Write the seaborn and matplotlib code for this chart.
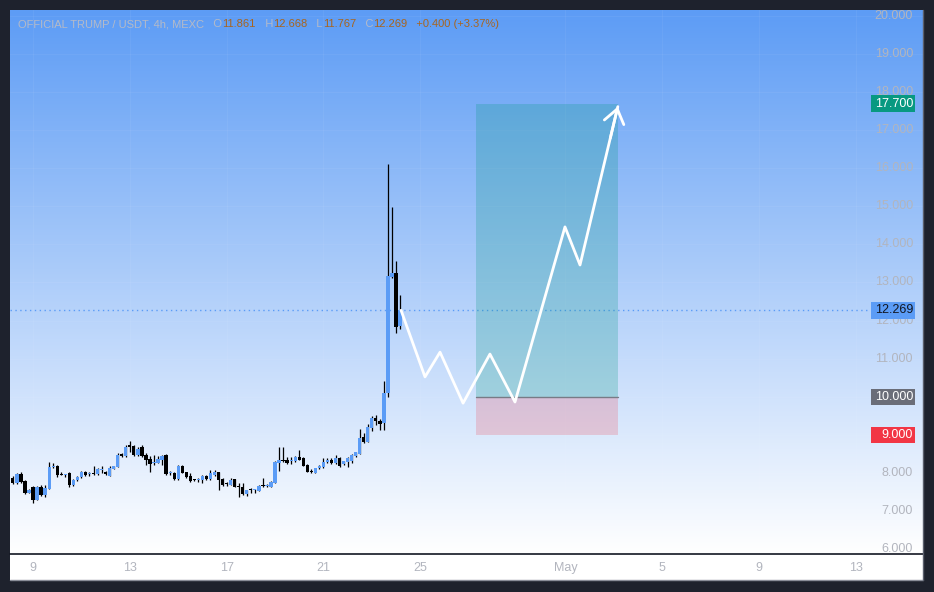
import numpy as np
import pandas as pd
import matplotlib
matplotlib.use('Agg')
import matplotlib.pyplot as plt
import matplotlib.dates as mdates
import matplotlib.transforms as mtransforms
from matplotlib.patches import Rectangle
from matplotlib.lines import Line2D
import seaborn as sns

# ---- data (OFFICIAL TRUMP / USDT, 4h candles) ----
first_candle = '2025-04-08 04:00'
candle_open = [7.87, 7.74, 7.96, 7.79, 7.48, 7.62, 7.29, 7.64, 7.42, 7.58,
               8.16, 8.17, 7.97, 7.95, 7.99, 7.68, 7.80, 7.88, 8.03, 7.96,
               8.00, 7.97, 8.07, 8.03, 7.93, 8.10, 8.16, 8.49, 8.43, 8.72,
               8.71, 8.47, 8.67, 8.47, 8.36, 8.26, 8.26, 8.34, 8.47, 7.99,
               7.99, 7.83, 8.19, 8.01, 7.93, 7.82, 7.81, 7.80, 7.93, 7.84,
               7.94, 8.01, 7.84, 7.72, 7.68, 7.83, 7.66, 7.62, 7.44, 7.55,
               7.54, 7.53, 7.66, 7.65, 7.64, 7.74, 8.27, 8.33, 8.35, 8.31,
               8.30, 8.41, 8.38, 8.21, 8.06, 8.00, 8.14, 8.15, 8.29, 8.34,
               8.25, 8.38, 8.22, 8.29, 8.32, 8.43, 8.50, 8.95, 8.82, 9.17,
               9.43, 9.37, 9.30, 10.10, 13.15, 13.24, 11.861]
candle_high = [7.92, 7.99, 8.03, 7.81, 7.57, 7.65, 7.65, 7.68, 7.68, 8.28,
               8.27, 8.21, 8.03, 7.98, 8.01, 7.83, 7.91, 8.06, 8.06, 8.03,
               8.18, 8.14, 8.19, 8.06, 8.17, 8.19, 8.52, 8.53, 8.74, 8.84,
               8.73, 8.69, 8.72, 8.51, 8.45, 8.47, 8.44, 8.47, 8.49, 8.06,
               8.03, 8.21, 8.21, 8.03, 7.99, 7.83, 7.87, 7.94, 7.95, 8.07,
               8.07, 8.03, 7.87, 7.77, 7.86, 7.85, 7.74, 7.74, 7.55, 7.59,
               7.57, 7.67, 7.87, 7.71, 7.78, 8.30, 8.67, 8.67, 8.41, 8.41,
               8.44, 8.60, 8.41, 8.23, 8.09, 8.14, 8.20, 8.38, 8.38, 8.38,
               8.47, 8.42, 8.32, 8.42, 8.50, 8.56, 9.14, 9.04, 9.27, 9.49,
               9.52, 9.41, 10.40, 16.11, 14.99, 13.56, 12.668]
candle_low = [7.71, 7.71, 7.72, 7.45, 7.46, 7.22, 7.28, 7.39, 7.37, 7.57,
              8.14, 7.90, 7.94, 7.90, 7.64, 7.66, 7.79, 7.86, 7.93, 7.93,
              7.94, 7.94, 7.99, 7.94, 7.92, 8.09, 8.15, 8.41, 8.42, 8.56,
              8.45, 8.44, 8.41, 8.21, 8.03, 8.21, 8.25, 8.21, 7.95, 7.95,
              7.82, 7.81, 7.99, 7.87, 7.77, 7.78, 7.75, 7.74, 7.81, 7.81,
              7.93, 7.55, 7.66, 7.66, 7.68, 7.62, 7.37, 7.42, 7.40, 7.46,
              7.46, 7.51, 7.62, 7.62, 7.63, 7.73, 8.06, 8.29, 8.23, 8.22,
              8.29, 8.34, 8.18, 8.01, 8.00, 8.00, 8.09, 8.14, 8.25, 8.23,
              8.23, 8.15, 8.21, 8.15, 8.27, 8.42, 8.49, 8.79, 8.82, 9.11,
              9.26, 9.13, 9.13, 10.00, 13.11, 11.68, 11.767]
candle_close = [7.74, 7.96, 7.77, 7.48, 7.56, 7.29, 7.62, 7.42, 7.59, 8.16,
                8.17, 7.94, 7.95, 7.96, 7.68, 7.81, 7.90, 8.03, 7.95, 7.99,
                7.97, 8.10, 8.09, 7.96, 8.14, 8.18, 8.47, 8.43, 8.69, 8.69,
                8.47, 8.63, 8.44, 8.34, 8.22, 8.29, 8.36, 8.43, 7.97, 8.01,
                7.83, 8.19, 8.00, 7.88, 7.79, 7.80, 7.81, 7.93, 7.84, 7.99,
                8.01, 7.81, 7.68, 7.71, 7.81, 7.64, 7.62, 7.44, 7.55, 7.54,
                7.55, 7.65, 7.65, 7.66, 7.77, 8.29, 8.34, 8.31, 8.27, 8.32,
                8.41, 8.35, 8.19, 8.03, 8.03, 8.14, 8.17, 8.29, 8.34, 8.27,
                8.38, 8.18, 8.31, 8.38, 8.47, 8.54, 8.92, 8.80, 9.21, 9.45,
                9.35, 9.28, 10.11, 13.17, 13.24, 11.84, 12.269]

# projected path (white arrow)
path_time = ['2025-04-24 05:00', '2025-04-25 04:45', '2025-04-25 19:40',
             '2025-04-26 18:30', '2025-04-27 21:10', '2025-04-28 22:00',
             '2025-04-30 23:35', '2025-05-01 14:30', '2025-05-03 04:00']
path_price = [12.27, 10.52, 11.17, 9.83, 11.12, 9.86, 14.46, 13.46, 17.62]

# long position tool
box_start = '2025-04-27 07:20'
box_end = '2025-05-03 04:00'
target_price = 17.70
entry_price = 10.00
stop_price = 9.00
last_close = 12.269

price_ticks = [6, 7, 8, 9, 10, 11, 12, 13, 14, 15, 16, 17, 18, 19, 20]
tick_dates = ['2025-04-09', '2025-04-13', '2025-04-17', '2025-04-21', '2025-04-25',
              '2025-05-01', '2025-05-05', '2025-05-09', '2025-05-13']
tick_labels = ['9', '13', '17', '21', '25', 'May', '5', '9', '13']

title_parts = [('OFFICIAL TRUMP / USDT, 4h, MEXC', 'label'), ('   O', 'label'), ('11.861', 'value'),
               ('   H', 'label'), ('12.668', 'value'), ('   L', 'label'), ('11.767', 'value'),
               ('   C', 'label'), ('12.269', 'value'), ('   +0.400 (+3.37%)', 'value')]

# ---- styling ----
sns.set_style('white')
plt.rcParams['font.family'] = ['Liberation Sans', 'DejaVu Sans']

UP = '#5b9cf6'
DOWN = '#000000'
FRAME = '#1e222d'
AXIS_TXT = '#b2b5be'

W, H = 934, 592
fig = plt.figure(figsize=(W / 100, H / 100), dpi=100, facecolor=FRAME)

# white time-axis band (behind the axes so the tick labels stay visible)
fig.patches.append(Rectangle((10 / W, 12 / H), 913 / W, 26 / H, transform=fig.transFigure,
                             facecolor='white', edgecolor='none', zorder=-5))

ax = fig.add_axes([10 / W, 38 / H, 913 / W, 544 / H])
ax.set_zorder(2)
ax.patch.set_alpha(0)

x_left = mdates.date2num(pd.Timestamp('2025-04-08 01:10'))
x_right = mdates.date2num(pd.Timestamp('2025-05-15 18:40'))
y_bottom, y_top = 5.868, 20.158

# gradient background
top = np.array([93, 156, 245]) / 255
bot = np.array([255, 255, 255]) / 255
t = np.linspace(0, 1, 256)[:, None]
grad = (top * (1 - t) + bot * t)[:, None, :]
ax.imshow(grad, extent=(0, 1, 0, 1), transform=ax.transAxes, aspect='auto', zorder=0)

# faint grid
for p in price_ticks:
    ax.axhline(p, color='white', lw=0.8, alpha=0.05, zorder=1)
tick_nums = mdates.date2num(pd.to_datetime(tick_dates))
for tx in tick_nums:
    ax.axvline(tx, color='white', lw=0.8, alpha=0.05, zorder=1)

# candles
df = pd.DataFrame({
    'time': pd.date_range(first_candle, periods=len(candle_open), freq='4h'),
    'open': candle_open, 'high': candle_high, 'low': candle_low, 'close': candle_close,
})
df['x'] = mdates.date2num(df['time'])
df['up'] = df['close'] >= df['open']
body_lo = df[['open', 'close']].min(axis=1)
body_h = (df['close'] - df['open']).abs().clip(lower=0.03)
colors = np.where(df['up'], UP, DOWN)
ax.vlines(df['x'], df['low'], df['high'], color='black', lw=0.9, zorder=3)
ax.bar(df['x'], body_h, bottom=body_lo, width=0.135, color=colors, linewidth=0, zorder=4)

# last price dotted line
ax.axhline(last_close, xmin=0, xmax=0.942, color=UP, lw=1, ls=(0, (1, 2.5)), zorder=2)

# position tool
bx0 = mdates.date2num(pd.Timestamp(box_start))
bx1 = mdates.date2num(pd.Timestamp(box_end))
ax.add_patch(Rectangle((bx0, entry_price), bx1 - bx0, target_price - entry_price,
                       facecolor='#089981', alpha=0.24, lw=0, zorder=2))
ax.add_patch(Rectangle((bx0, stop_price), bx1 - bx0, entry_price - stop_price,
                       facecolor='#f23645', alpha=0.2, lw=0, zorder=2))
ax.plot([bx0, bx1], [entry_price, entry_price], color='#787b86', lw=1, zorder=2)

# projected path
path = pd.DataFrame({'time': mdates.date2num(pd.to_datetime(path_time)), 'price': path_price})
sns.lineplot(data=path, x='time', y='price', sort=False, estimator=None,
             color='white', lw=2, ax=ax, zorder=5)
ax.annotate('', xy=(path['time'].iloc[-1], path['price'].iloc[-1]),
            xytext=(path['time'].iloc[-2] + 0.8 * (path['time'].iloc[-1] - path['time'].iloc[-2]),
                    path['price'].iloc[-2] + 0.8 * (path['price'].iloc[-1] - path['price'].iloc[-2])),
            arrowprops=dict(arrowstyle='->,head_length=0.55,head_width=0.4', color='white', lw=2,
                            shrinkA=0, shrinkB=0, mutation_scale=18), zorder=6)

ax.set_xlim(x_left, x_right)
ax.set_ylim(y_bottom, y_top)

# axes: x labels in white band below, price scale drawn inside on the right
ax.set_xticks(tick_nums)
ax.set_xticklabels(tick_labels)
ax.tick_params(axis='x', length=0, pad=6, labelsize=9, labelcolor=AXIS_TXT)
ax.set_yticks([])
ax.set_xlabel('')
ax.set_ylabel('')
for s in ['top', 'left', 'right']:
    ax.spines[s].set_visible(False)
ax.spines['bottom'].set_color('#131722')
ax.spines['bottom'].set_linewidth(1.2)

ytrans = mtransforms.blended_transform_factory(ax.transAxes, ax.transData)
for p in price_ticks:
    ax.text(0.989, p, f'{p:.3f}', transform=ytrans, ha='right', va='center',
            fontsize=9, color=AXIS_TXT, zorder=7)

tags = [(target_price, '#089981', 'white'), (last_close, UP, '#131722'),
        (entry_price, '#6a6d78', 'white'), (stop_price, '#f23645', 'white')]
for val, bg, fg in tags:
    ax.add_patch(Rectangle((0.943, val - 0.215), 0.048, 0.43, transform=ytrans,
                           facecolor=bg, lw=0, zorder=8, clip_on=False))
    ax.text(0.989, val, f'{val:.3f}', transform=ytrans, ha='right', va='center',
            fontsize=9, color=fg, zorder=9)

# title line with coloured OHLC values
part_color = {'label': '#b4bac8', 'value': '#a8651e'}
prev = ax.text(0.0088, 0.974, title_parts[0][0], transform=ax.transAxes, ha='left', va='center',
               fontsize=8, color=part_color[title_parts[0][1]], zorder=9)
for txt, kind in title_parts[1:]:
    prev = ax.annotate(txt, xy=(1, 0), xycoords=prev, ha='left', va='bottom',
                       fontsize=8, color=part_color[kind], zorder=9)

# panel edges
fig.lines.append(Line2D([10 / W, 923 / W], [12 / H, 12 / H], transform=fig.transFigure,
                        color='#8a8e99', lw=1))
fig.lines.append(Line2D([923 / W, 923 / W], [12 / H, 582 / H], transform=fig.transFigure,
                        color='#5a5f6c', lw=1))

fig.savefig('out.png', dpi=100, facecolor=FRAME)
